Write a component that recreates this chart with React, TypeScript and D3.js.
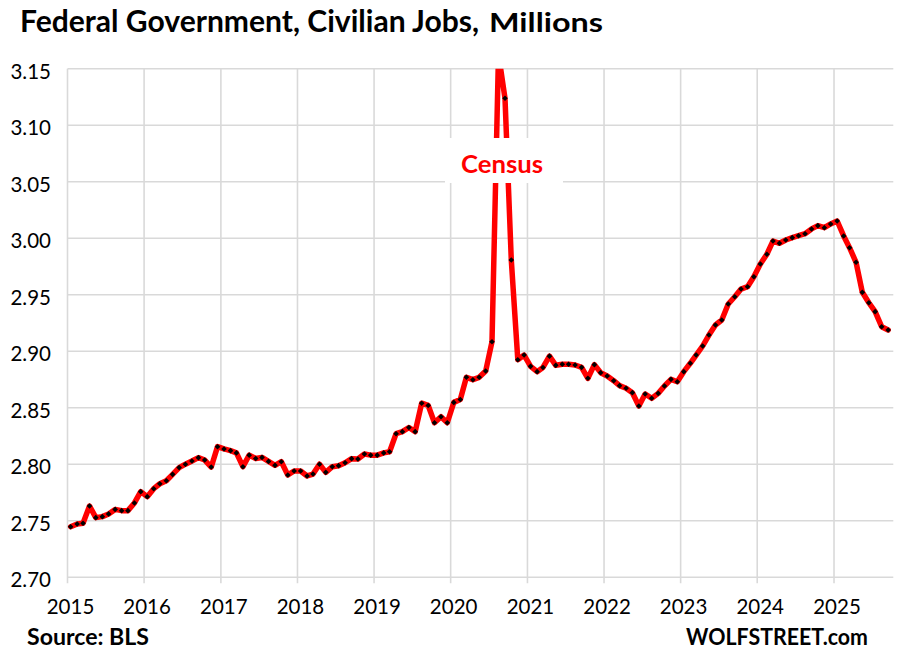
import React from "react";
import * as d3 from "d3";

const startYear = 2015;
const startMonth = 0; // January 2015
const jobs: number[] = [
  2.7447, 2.7471, 2.7477, 2.763, 2.7527, 2.7536, 2.756, 2.76, 2.7589, 2.7589, 2.7657, 2.7757,
  2.7713, 2.7783, 2.7827, 2.7854, 2.791, 2.797, 2.8, 2.8028, 2.8058, 2.8037, 2.7975, 2.8155,
  2.8135, 2.812, 2.81, 2.7978, 2.808, 2.805, 2.806, 2.8025, 2.799, 2.8022, 2.7905, 2.794,
  2.794, 2.7896, 2.7913, 2.8, 2.7928, 2.7978, 2.7987, 2.8013, 2.8049, 2.8046, 2.809, 2.808,
  2.808, 2.81, 2.811, 2.827, 2.8288, 2.8325, 2.8288, 2.854, 2.852, 2.8367, 2.842, 2.8367,
  2.8547, 2.8572, 2.8769, 2.8748, 2.8769, 2.8825, 2.9084, 3.163, 3.1238, 2.9807, 2.8925, 2.8966,
  2.8866, 2.8819, 2.8856, 2.8956, 2.8875, 2.8884, 2.8884, 2.8878, 2.8857, 2.876, 2.8881, 2.881,
  2.8781, 2.8739, 2.8695, 2.8672, 2.8633, 2.8515, 2.8621, 2.8583, 2.8627, 2.8692, 2.8751, 2.873,
  2.8819, 2.8893, 2.8966, 2.9046, 2.9143, 2.9232, 2.9276, 2.9418, 2.9482, 2.955, 2.9571, 2.9659,
  2.9772, 2.9858, 2.9975, 2.9955, 2.9984, 3.0005, 3.0022, 3.004, 3.0082, 3.0111, 3.0093, 3.0126,
  3.0152, 3.002, 2.9916, 2.9787, 2.9521, 2.9429, 2.935, 2.9217, 2.9188,
];
const yTicks: number[] = [2.7, 2.75, 2.8, 2.85, 2.9, 2.95, 3.0, 3.05, 3.1, 3.15];
const xTickYears: number[] = [2015, 2016, 2017, 2018, 2019, 2020, 2021, 2022, 2023, 2024, 2025];

const title = "Federal Government, Civilian Jobs,";
const titleUnit = "Millions";
const annotation = "Census";
const source = "Source: BLS";
const brand = "WOLFSTREET.com";

const FONT = "Lato, 'Open Sans', 'Liberation Sans', sans-serif";

export default function App() {
  const W = 913;
  const H = 655;
  const left = 67.5;
  const top = 68.7;
  const bottom = 577.2;

  const x = d3
    .scaleTime()
    .domain([new Date(2015, 0, 1), new Date(2025, 9, 1)])
    .range([left, 891.3]);
  const y = d3.scaleLinear().domain([2.7, 3.15]).range([bottom, top]);

  const data = jobs.map((v, i) => ({ date: new Date(startYear, startMonth + i, 16), v }));
  const line = d3
    .line<{ date: Date; v: number }>()
    .x((d) => x(d.date))
    .y((d) => y(d.v));

  const right = x.range()[1] + 2;
  const grid = "#d9d9d9";

  return (
    <svg
      width={W}
      height={H}
      style={{ position: "absolute", left: 0, top: 0, background: "#fff" }}
      fontFamily={FONT}
    >
      <defs>
        <clipPath id="plotClip">
          <rect x={left - 5} y={top} width={right - left + 10} height={bottom - top + 5} />
        </clipPath>
      </defs>
      <rect x={0} y={0} width={W} height={H} fill="#fff" />

      {/* title */}
      <text x={20} y={32} fontSize={30} fontWeight={700} fill="#000" textLength={459} lengthAdjust="spacingAndGlyphs">
        {title}
      </text>
      <text x={489} y={32} fontSize={26} fontWeight={700} fill="#000" textLength={114} lengthAdjust="spacingAndGlyphs">
        {titleUnit}
      </text>

      {/* horizontal gridlines */}
      {yTicks.map((t) => (
        <line key={"h" + t} x1={left} x2={right} y1={y(t)} y2={y(t)} stroke={grid} strokeWidth={1.6} />
      ))}
      {/* vertical gridlines */}
      {xTickYears.map((yr) => {
        const xx = x(new Date(yr, 0, 1));
        return (
          <line key={"v" + yr} x1={xx} x2={xx} y1={top} y2={bottom + 6} stroke={grid} strokeWidth={1.6} />
        );
      })}

      {/* y labels */}
      {yTicks.map((t) => (
        <text key={"yl" + t} x={51} y={y(t) + 9.8} fontSize={20.5} textAnchor="end" fill="#000">
          {d3.format(".2f")(t)}
        </text>
      ))}
      {/* x labels */}
      {xTickYears.map((yr) => (
        <text key={"xl" + yr} x={x(new Date(yr, 0, 1)) + 3} y={614} fontSize={20.5} textAnchor="middle" fill="#000">
          {yr}
        </text>
      ))}

      {/* series */}
      <g clipPath="url(#plotClip)">
        <path d={line(data) || ""} fill="none" stroke="#ff0000" strokeWidth={5.5} strokeLinejoin="round" strokeLinecap="round" />
        {data.map((d, i) => {
          const cx = x(d.date);
          const cy = y(d.v);
          const r = 2.8;
          return <path key={"m" + i} d={`M${cx},${cy - r}L${cx + r},${cy}L${cx},${cy + r}L${cx - r},${cy}Z`} fill="#000" />;
        })}
      </g>

      {/* Census label box */}
      <rect x={445} y={138} width={118} height={45} fill="#fff" />
      <text x={502} y={173} fontSize={25} fontWeight={700} fill="#ff0000" textAnchor="middle" textLength={82} lengthAdjust="spacingAndGlyphs">
        {annotation}
      </text>

      {/* footer */}
      <text x={27} y={645} fontSize={22} fontWeight={700} fill="#000" textLength={122} lengthAdjust="spacingAndGlyphs">
        {source}
      </text>
      <text x={868} y={645} fontSize={22} fontWeight={700} fill="#000" textAnchor="end" textLength={182} lengthAdjust="spacingAndGlyphs">
        {brand}
      </text>
    </svg>
  );
}
